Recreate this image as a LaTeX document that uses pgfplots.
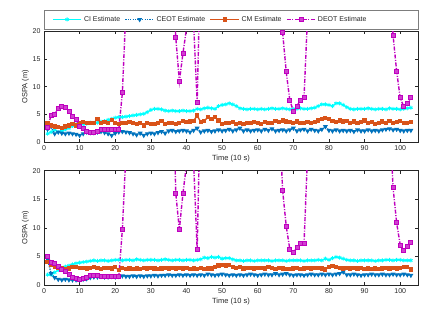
\documentclass[border=0pt]{standalone}
\usepackage{fontspec}
\setmainfont{Liberation Sans}
\usepackage{pgfplots}
\usepackage{pgfplotstable}
\pgfplotsset{compat=1.18}
\definecolor{ciC}{rgb}{0,1,1}
\definecolor{ceotC}{rgb}{0,0.447,0.741}
\definecolor{cmC}{rgb}{0.85,0.325,0.098}
\definecolor{deotC}{rgb}{0.75,0,0.75}
\definecolor{axC}{rgb}{0.15,0.15,0.15}

\pgfplotstableread{
x ci ceot cm deot
1 1.5 2.3 3.5 2.6
2 1.8 2.8 3.0 4.8
3 2.2 1.5 2.8 5.0
4 1.8 1.8 2.7 6.1
5 2.0 1.6 2.6 6.4
6 2.3 1.5 2.8 6.3
7 2.5 1.6 3.0 5.6
8 2.9 1.5 3.3 4.7
9 3.2 1.4 3.0 4.0
10 3.3 1.2 3.5 2.9
11 3.2 1.5 3.6 2.5
12 3.3 1.8 3.5 2.0
13 3.5 1.7 3.4 1.7
14 3.4 1.7 3.5 1.7
15 3.5 1.8 4.1 2.0
16 3.7 1.9 3.4 2.2
17 3.8 1.7 3.6 2.3
18 4.0 1.5 3.5 2.3
19 4.2 1.2 4.0 2.3
20 4.4 1.6 3.4 2.3
21 4.5 1.8 3.3 2.3
22 4.5 1.9 3.5 8.9
23 4.6 1.8 3.4 24
24 4.7 1.7 3.6 35
25 4.8 1.5 3.4 42
26 4.9 1.3 3.3 50
27 5.0 1.6 3.5 55
28 5.1 1.2 3.0 58
29 5.4 1.5 3.4 60
30 5.8 1.6 3.3 58
31 6.0 1.5 3.2 55
32 6.0 1.7 3.4 50
33 5.9 1.9 3.8 45
34 5.7 1.6 3.3 40
35 5.6 2.0 3.4 35
36 5.7 2.1 3.5 30
37 5.6 1.9 3.3 18.9
38 5.6 2.0 3.4 11.0
39 5.7 2.1 3.8 16.0
40 5.6 2.0 3.6 20.5
41 5.6 1.8 3.7 30
42 5.7 2.1 3.8 21.4
43 6.0 2.5 4.8 7.2
44 5.9 1.8 3.6 35
45 6.1 2.0 3.8 45
46 6.2 2.1 4.5 50
47 6.1 1.9 4.1 55
48 6.0 2.0 4.5 60
49 6.5 2.2 3.9 60
50 6.7 2.0 3.3 58
51 6.8 2.1 3.5 55
52 7.0 2.3 3.4 50
53 6.8 2.0 3.6 48
54 6.5 2.2 3.3 45
55 6.1 2.5 3.5 45
56 6.0 2.0 3.2 48
57 5.9 2.2 3.5 50
58 6.0 2.0 3.4 52
59 6.0 2.1 3.6 50
60 5.9 2.2 3.5 48
61 6.0 2.0 3.3 45
62 5.9 2.3 3.6 42
63 6.0 2.1 3.5 40
64 6.1 2.4 3.4 35
65 6.0 2.0 3.8 32
66 6.0 2.1 3.6 30
67 6.1 2.2 3.9 19.8
68 6.0 2.0 3.7 12.7
69 5.9 2.2 3.6 7.6
70 6.0 2.5 3.5 5.6
71 6.0 2.0 3.7 6.5
72 6.1 2.2 3.4 7.6
73 6.0 2.3 3.5 8.0
74 6.0 2.0 3.6 23
75 6.1 2.3 3.4 30
76 6.2 2.1 3.6 38
77 6.5 2.0 3.9 45
78 6.8 2.3 4.2 50
79 6.8 2.8 4.3 55
80 6.7 2.1 4.1 58
81 6.5 2.0 3.8 60
82 7.0 2.2 3.6 58
83 7.0 2.0 3.9 55
84 6.7 2.1 3.7 52
85 6.3 2.0 3.8 50
86 6.0 2.1 3.5 48
87 5.9 1.9 3.7 45
88 6.0 2.2 3.4 45
89 6.0 2.0 3.6 48
90 6.0 2.0 3.9 50
91 6.1 2.2 3.5 48
92 6.0 2.0 3.6 45
93 5.9 2.1 3.3 42
94 6.0 2.0 3.5 40
95 6.0 2.2 3.7 38
96 5.9 2.3 3.4 35
97 6.1 2.4 3.8 30
98 6.0 2.2 3.5 19.3
99 6.0 2.3 3.6 12.8
100 5.9 2.1 3.8 8.0
101 6.0 2.0 3.4 6.4
102 6.1 2.1 3.5 7.0
103 6.2 2.1 3.6 8.0
}\toptable

\pgfplotstableread{
x ci ceot cm deot
1 1.8 4.5 4.0 5.0
2 1.8 2.0 3.5 4.0
3 2.2 1.3 3.2 3.7
4 2.6 1.0 3.0 3.2
5 3.0 0.9 2.9 2.8
6 3.2 1.0 2.8 2.3
7 3.4 0.9 2.9 1.8
8 3.6 0.9 3.2 1.3
9 3.8 0.9 3.2 1.1
10 3.9 0.9 3.0 1.0
11 4.0 1.0 3.0 1.1
12 4.1 1.1 2.9 1.4
13 4.2 1.3 3.0 1.6
14 4.3 1.4 3.1 1.7
15 4.2 1.4 3.0 1.6
16 4.3 1.5 2.8 1.5
17 4.3 1.4 3.0 1.5
18 4.2 1.4 3.0 1.5
19 4.3 1.5 2.9 1.5
20 4.4 1.4 3.1 1.5
21 4.4 1.5 2.6 1.5
22 4.3 1.6 3.0 9.7
23 4.4 1.5 2.8 23
24 4.4 1.5 2.9 35
25 4.3 1.6 2.8 42
26 4.5 1.5 2.9 50
27 4.4 1.6 2.8 55
28 4.3 1.5 3.0 58
29 4.4 1.6 2.9 60
30 4.4 1.6 3.0 58
31 4.4 1.7 2.9 55
32 4.3 1.6 2.8 52
33 4.4 1.7 2.9 50
34 4.5 1.7 3.0 48
35 4.4 1.8 2.9 45
36 4.3 1.7 3.0 40
37 4.4 1.7 2.9 16.0
38 4.4 1.8 3.0 9.7
39 4.3 1.7 2.9 16.0
40 4.4 1.8 3.0 21
41 4.4 1.7 2.8 30
42 4.3 1.8 2.9 21.5
43 4.4 1.7 2.8 6.2
44 4.5 1.8 3.0 35
45 4.8 1.7 2.8 45
46 4.7 1.9 2.9 50
47 4.9 1.8 2.9 55
48 4.8 1.7 3.2 60
49 4.9 1.8 3.4 60
50 4.6 1.9 3.5 58
51 4.7 1.8 3.4 55
52 4.7 1.7 3.5 50
53 4.5 1.8 3.1 48
54 4.3 1.7 3.0 45
55 4.3 1.8 3.1 45
56 4.2 1.7 2.9 48
57 4.3 1.8 3.0 50
58 4.3 1.9 3.0 52
59 4.2 1.8 2.9 50
60 4.3 1.7 3.0 48
61 4.3 1.8 3.0 45
62 4.3 1.9 2.9 42
63 4.3 1.8 3.2 40
64 4.2 1.8 3.0 38
65 4.3 2.0 2.8 35
66 4.3 1.8 3.0 30
67 4.3 1.9 2.9 16.5
68 4.2 2.0 2.8 10.3
69 4.3 1.8 2.8 6.3
70 4.3 1.7 2.9 5.7
71 4.3 1.8 3.0 6.5
72 4.3 1.8 2.8 7.2
73 4.2 1.7 2.9 7.2
74 4.3 1.8 3.0 23
75 4.3 1.9 2.9 30
76 4.3 1.8 3.0 38
77 4.4 1.8 3.0 45
78 4.3 1.9 2.9 50
79 4.6 1.8 2.7 55
80 4.4 1.9 3.2 58
81 4.7 1.8 3.3 60
82 4.9 1.9 3.1 58
83 4.8 2.0 3.0 55
84 4.6 2.3 2.9 52
85 4.4 1.8 3.0 50
86 4.3 1.8 2.9 48
87 4.3 1.9 3.0 45
88 4.2 1.8 2.9 45
89 4.3 1.7 3.0 48
90 4.3 1.8 2.8 50
91 4.3 1.8 2.9 48
92 4.3 1.9 2.8 45
93 4.2 1.8 2.9 42
94 4.3 1.8 2.8 40
95 4.3 1.9 2.9 38
96 4.4 1.8 3.0 35
97 4.4 1.8 2.9 30
98 4.3 1.9 3.0 17.0
99 4.4 1.8 2.9 10.9
100 4.4 1.8 3.0 7.0
101 4.3 1.9 3.1 6.1
102 4.3 1.8 3.1 6.8
103 4.3 1.7 2.7 7.4
}\bottable

\pgfplotsset{
  myax/.style={
    scale only axis, width=374pt, anchor=south west,
    xmin=0, xmax=105, ymin=0, ymax=20,
    xtick={0,10,...,100}, ytick={0,5,...,20},
    tick align=inside, major tick length=3pt,
    axis line style={axC, line width=0.5pt},
    tick style={axC, line width=0.5pt},
    /pgf/number format/assume math mode=true,
    ticklabel style={font=\fontsize{7}{8}\selectfont, text=axC},
    label style={font=\fontsize{7.5}{9}\selectfont, text=axC},
    xlabel={Time (10 s)}, ylabel={OSPA (m)},
    xlabel style={yshift=2pt},
    ylabel style={yshift=-3pt},
    clip=true,
  },
  longleg/.style={legend image code/.code={\draw[mark repeat=2,mark phase=2,##1] plot coordinates {(0cm,0cm) (0.5cm,0cm) (1cm,0cm)};}},
  ciS/.style={longleg, color=ciC, line width=1.4pt, mark=asterisk, mark size=2pt, mark options={solid, line width=0.8pt}},
  ceotS/.style={longleg, color=ceotC, line width=1.4pt, dash pattern=on 1.2pt off 1.2pt, mark=triangle*, mark size=1.5pt, mark options={solid, rotate=180}},
  cmS/.style={longleg, color=cmC, line width=1.4pt, mark=square*, mark size=1.4pt, mark options={solid}},
  deotS/.style={longleg, color=deotC, line width=1.4pt, dash pattern=on 4pt off 1.5pt on 1pt off 1.5pt, mark=square*, mark size=2pt, mark options={solid, fill=deotC!75!white, line width=0.8pt}},
}

\begin{document}
\begin{tikzpicture}
\path[use as bounding box] (0,0) rectangle (443pt,318pt);
\begin{axis}[myax, at={(44pt,176pt)}, height=110.5pt,
  legend columns=4,
  legend style={draw=none, fill=none, at={(0,1)}, anchor=west, xshift=8pt, yshift=12pt,
    font=\fontsize{7}{8}\selectfont, text=axC, inner sep=0pt,
    /tikz/every even column/.append style={column sep=2.5pt}},
]
\addplot[ciS] table[x=x, y=ci] {\toptable};
\addlegendentry{CI Estimate}
\addplot[ceotS] table[x=x, y=ceot] {\toptable};
\addlegendentry{CEOT Estimate}
\addplot[cmS] table[x=x, y=cm] {\toptable};
\addlegendentry{CM Estimate}
\addplot[deotS] table[x=x, y=deot] {\toptable};
\addlegendentry{DEOT Estimate}
\end{axis}
\draw[color=axC!60, line width=0.5pt] (44.5pt,289pt) rectangle (418pt,308pt);
\begin{axis}[myax, at={(44pt,33pt)}, height=114.3pt]
\addplot[ciS] table[x=x, y=ci] {\bottable};
\addplot[ceotS] table[x=x, y=ceot] {\bottable};
\addplot[cmS] table[x=x, y=cm] {\bottable};
\addplot[deotS] table[x=x, y=deot] {\bottable};
\end{axis}
\end{tikzpicture}
\end{document}
